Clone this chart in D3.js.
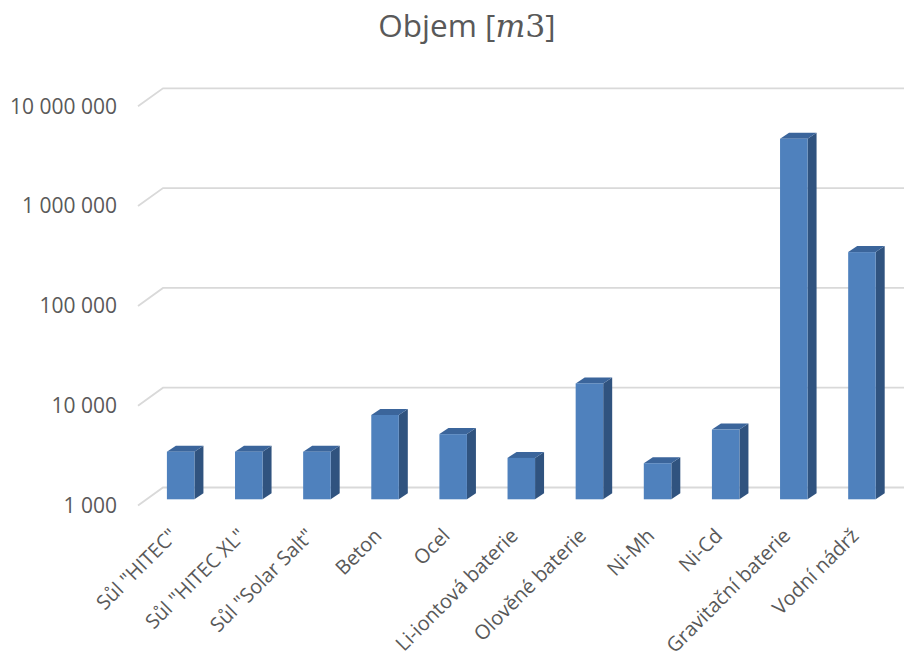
<!DOCTYPE html>
<html><head><meta charset="utf-8">
<script src="https://cdn.jsdelivr.net/npm/d3@7"></script>
<style>body{margin:0;background:#fff} svg{display:block;font-family:"Open Sans",sans-serif}</style>
</head><body><svg id="c" width="904" height="662"></svg>
<script>
const categories = ['Sůl "HITEC"','Sůl "HITEC XL"','Sůl "Solar Salt"','Beton','Ocel','Li-iontová baterie','Olověné baterie','Ni-Mh','Ni-Cd','Gravitační baterie','Vodní nádrž'];
const values = [3000,3000,3000,7000,4500,2600,14500,2300,5000,4100000,300000];
const tickValues = [1000,10000,100000,1000000,10000000];
const tickLabels = ['1 000','10 000','100 000','1 000 000','10 000 000'];
const titleText = 'Objem [';
const titleMath = ['m','3'];
const titleEnd = ']';

const svg = d3.select('#c');
const textColor = '#595959';
// 3D geometry
const backLeft = 163, floorW = 749.4, depthDX = 25, depthDY = -18;
const barT = 0.656;            // bar front face position between back (0) and front (1)
const barDX = 9, barDY = -6;   // bar depth
const yBack = d3.scaleLog().domain([1000, 1e7]).range([487.5, 88.3]);
const yFront = d3.scaleLog().domain([1000, 1e7]).range([487.5 - depthDY, 88.3 - depthDY]);
const yBar = d3.scaleLog().domain([1000, 1e7]).range([487.5 - depthDY*barT, 88.3 - depthDY*barT]);
const xStart = backLeft - depthDX*barT;
const x = d3.scaleBand().domain(categories).range([xStart, xStart + floorW]).paddingInner(0.596).paddingOuter(0.298);
const bw = x.bandwidth();

// gridlines
svg.append('g').selectAll('polyline').data(tickValues).join('polyline')
  .attr('points', d => `${backLeft-depthDX},${yFront(d)} ${backLeft},${yBack(d)} ${backLeft+floorW},${yBack(d)}`)
  .attr('fill','none').attr('stroke','#d9d9d9').attr('stroke-width',1.8);

// y axis labels
const ax = svg.append('g').attr('transform',`translate(${backLeft-depthDX},0)`)
  .call(d3.axisLeft(yFront).tickValues(tickValues).tickSize(0).tickPadding(21)
    .tickFormat((d,i) => tickLabels[i]));
ax.select('.domain').remove();
ax.selectAll('text').attr('fill',textColor).style('font-size','21px').style('font-family','"Open Sans",sans-serif');

// bars
const bars = svg.append('g').selectAll('g').data(categories).join('g');
const base = yBar(1000);
bars.append('polygon').attr('fill','#30537f')
  .attr('points',(c,i)=>{const x0=x(c)+bw, y0=yBar(values[i]);
    return `${x0},${y0} ${x0+barDX},${y0+barDY} ${x0+barDX},${base+barDY} ${x0},${base}`;});
bars.append('polygon').attr('fill','#3b659b')
  .attr('points',(c,i)=>{const x0=x(c), y0=yBar(values[i]);
    return `${x0},${y0} ${x0+barDX},${y0+barDY} ${x0+bw+barDX},${y0+barDY} ${x0+bw},${y0}`;});
bars.append('rect').attr('fill','#4f81bd')
  .attr('x',c=>x(c)).attr('width',bw)
  .attr('y',(c,i)=>yBar(values[i])).attr('height',(c,i)=>base-yBar(values[i]));

// category labels
svg.append('g').selectAll('text').data(categories).join('text')
  .attr('transform', c => `translate(${x(c)+bw/2-2},${537}) rotate(-45)`)
  .attr('text-anchor','end')
  .attr('fill',textColor).style('font-size','20px').text(c=>c);

// title
const t = svg.append('text').attr('x',467).attr('y',37).attr('text-anchor','middle')
  .attr('fill',textColor).style('font-size','31.5px');
t.append('tspan').text(titleText);
t.append('tspan').style('font-family','"DejaVu Serif",serif').style('font-style','italic').text(titleMath[0]);
t.append('tspan').style('font-family','"DejaVu Serif",serif').text(titleMath[1]);
t.append('tspan').text(titleEnd);
</script></body></html>
